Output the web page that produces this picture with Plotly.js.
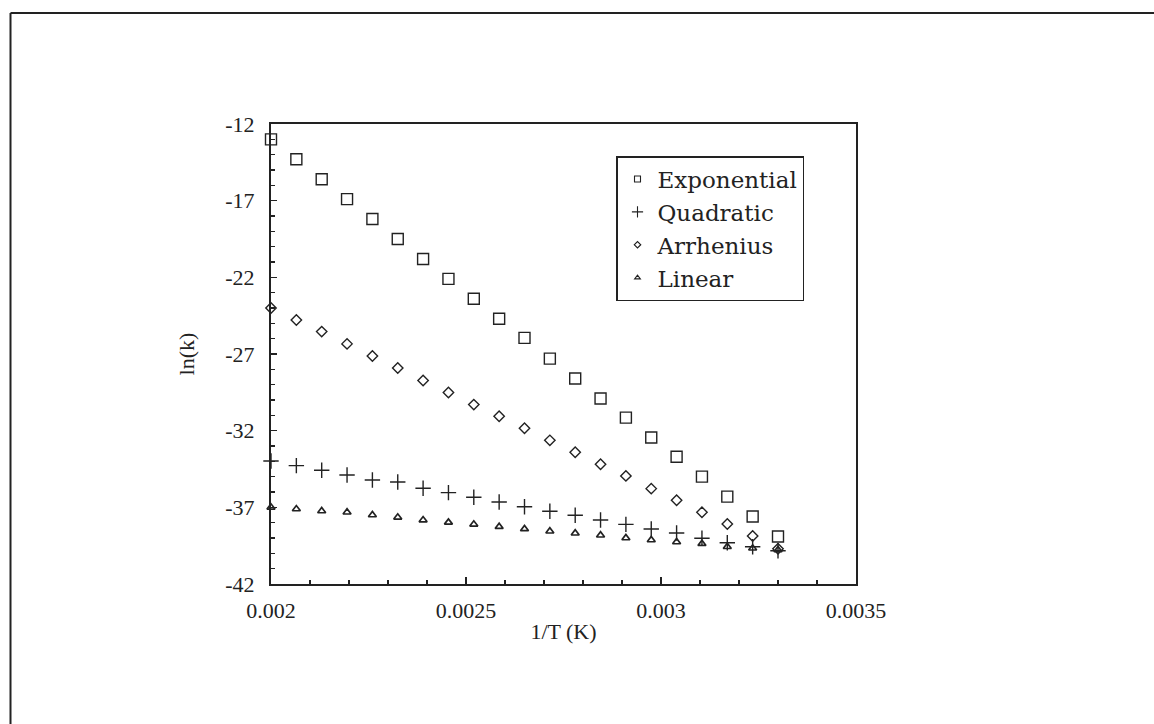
<!DOCTYPE html>
<html>
<head>
<meta charset="utf-8">
<script src="https://cdn.plot.ly/plotly-3.0.1.min.js"></script>
<style>
  html, body { margin: 0; padding: 0; background: #fff; }
  #chart { width: 1154px; height: 724px; }
</style>
</head>
<body>
<div id="chart"></div>
<script>
// Reciprocal temperature, 1/T
const invT = [0.002, 0.002065, 0.00213, 0.002195, 0.00226, 0.002325, 0.00239,
  0.002455, 0.00252, 0.002585, 0.00265, 0.002715, 0.00278, 0.002845, 0.00291,
  0.002975, 0.00304, 0.003105, 0.00317, 0.003235, 0.0033];

// ln(k) for each rate model
const exponential = [-13.0, -14.3, -15.6, -16.9, -18.2, -19.5, -20.8, -22.1, -23.4,
  -24.7, -25.95, -27.3, -28.6, -29.9, -31.15, -32.45, -33.7, -35.0, -36.3, -37.6, -38.9];
const quadratic = [-33.98, -34.28, -34.58, -34.89, -35.22, -35.35, -35.76, -36.04,
  -36.34, -36.65, -36.96, -37.26, -37.52, -37.83, -38.11, -38.41, -38.67, -39.02,
  -39.31, -39.57, -39.83];
const arrhenius = [-24.0, -24.78, -25.54, -26.34, -27.13, -27.91, -28.73, -29.51,
  -30.3, -31.06, -31.84, -32.63, -33.41, -34.19, -34.95, -35.78, -36.54, -37.32,
  -38.09, -38.87, -39.7];
const linear = [-37.0, -37.11, -37.24, -37.32, -37.5, -37.65, -37.83, -37.98, -38.11,
  -38.26, -38.41, -38.56, -38.69, -38.82, -39.0, -39.13, -39.26, -39.37, -39.57,
  -39.67, -39.78];

const seriesNames = ['Exponential', 'Quadratic', 'Arrhenius', 'Linear'];

// Axis ticks
const xTickVals = [0.002, 0.0025, 0.003, 0.0035];
const xTickText = ['0.002', '0.0025', '0.003', '0.0035'];
const yTickVals = [-42, -37, -32, -27, -22, -17, -12];
const yTickText = ['-42', '-37', '-32', '-27', '-22', '-17', '-12'];

const ink = '#222';
const serif = 'Liberation Serif, Times New Roman, serif';

const seriesY = [exponential, quadratic, arrhenius, linear];
const symbols = ['square-open', 'cross-thin-open', 'diamond-open', 'triangle-up-open'];
const plotSizes = [11, 11, 8, 7];
const plotStroke = [1.4, 1.4, 1.4, 1.7];
const keySizes = [6, 8, 5, 5];

const traces = [];
// plotted points
seriesY.forEach((ys, i) => {
  traces.push({
    type: 'scatter', mode: 'markers', name: seriesNames[i],
    x: invT, y: ys, showlegend: false, cliponaxis: false,
    marker: { symbol: symbols[i], size: plotSizes[i], color: ink,
              line: { color: ink, width: plotStroke[i] } }
  });
});
// key entries with the small symbols used in the legend
seriesY.forEach((ys, i) => {
  traces.push({
    type: 'scatter', mode: 'markers', name: seriesNames[i],
    x: [null], y: [null], showlegend: true, hoverinfo: 'skip',
    marker: { symbol: symbols[i], size: keySizes[i], color: ink,
              line: { color: ink, width: 1.1 } }
  });
});

// plot area in pixels: x 271..856, y 124..584
const L = 271, R = 856, T = 124, B = 584;
const px = v => (v - L) / (R - L);
const py = v => (B - v) / (B - T);

const layout = {
  width: 1154, height: 724,
  margin: { l: L, r: 1154 - R, t: T, b: 724 - B, pad: 0 },
  paper_bgcolor: '#fff', plot_bgcolor: '#fff',
  font: { family: serif, size: 22, color: ink },
  showlegend: true,
  legend: {
    x: px(616), y: py(156), xanchor: 'left', yanchor: 'top',
    bgcolor: '#fff', bordercolor: ink, borderwidth: 1.5,
    font: { family: 'DejaVu Serif, serif', size: 23, color: ink },
    itemwidth: 30, tracegroupgap: 0
  },
  xaxis: {
    range: [0.002, 0.0035], showgrid: false, zeroline: false,
    showline: true, linecolor: ink, linewidth: 2, mirror: true,
    ticks: 'inside', ticklen: 7, tickwidth: 1.2, tickcolor: ink,
    tickvals: xTickVals, ticktext: xTickText,
    tickfont: { family: serif, size: 22, color: ink },
    ticklabelstandoff: 6,
    minor: { ticks: 'inside', ticklen: 4, tickwidth: 1.1, tickcolor: ink,
             dtick: 0.0001, tick0: 0.002, showgrid: false },
    title: { text: '1/T (K)', font: { family: serif, size: 22, color: ink }, standoff: 1 }
  },
  yaxis: {
    range: [-42, -12], showgrid: false, zeroline: false,
    showline: true, linecolor: ink, linewidth: 2, mirror: true,
    ticks: 'inside', ticklen: 6, tickwidth: 1.2, tickcolor: ink,
    tickvals: yTickVals, ticktext: yTickText,
    tickfont: { family: serif, size: 22, color: ink },
    ticklabelstandoff: 10,
    minor: { ticks: 'inside', ticklen: 4, tickwidth: 1.1, tickcolor: ink,
             dtick: 1, tick0: -42, showgrid: false },
    title: { text: 'ln(k)', font: { family: serif, size: 22, color: ink }, standoff: 25 }
  },
  shapes: [
    // page frame, left and top edges
    { type: 'line', xref: 'paper', yref: 'paper', x0: px(10.5), x1: px(10.5),
      y0: py(13), y1: py(740), line: { color: ink, width: 2 } },
    { type: 'line', xref: 'paper', yref: 'paper', x0: px(10.5), x1: px(1170),
      y0: py(13), y1: py(13), line: { color: ink, width: 2 } }
  ]
};

Plotly.newPlot('chart', traces, layout, { staticPlot: true, displayModeBar: false });
</script>
</body>
</html>
